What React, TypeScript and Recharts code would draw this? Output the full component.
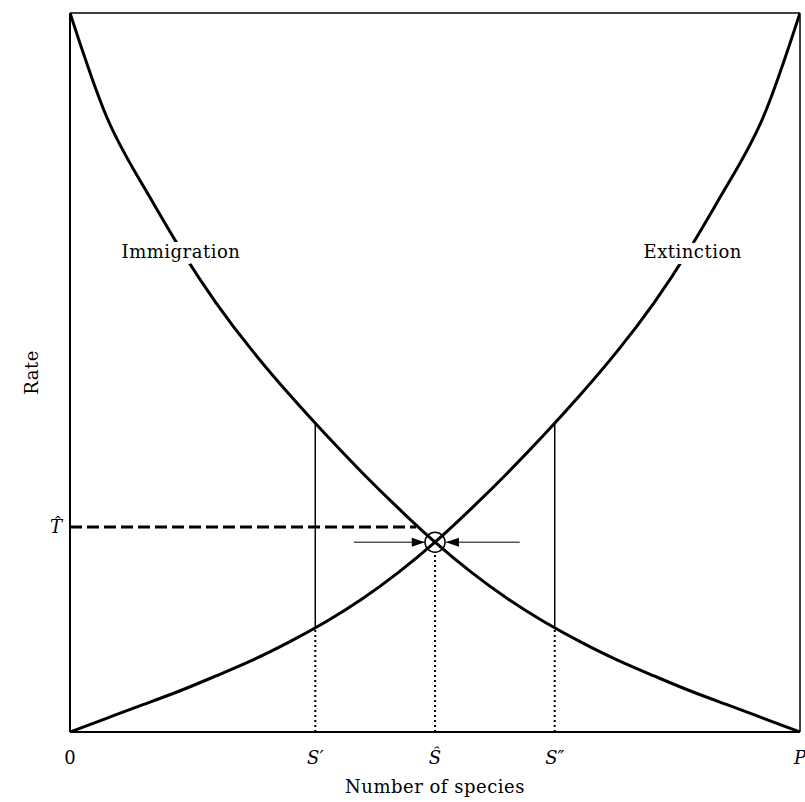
import React from 'react';
import {
  ComposedChart, Line, XAxis, YAxis, ReferenceLine, ReferenceDot, Scatter, Label,
} from 'recharts';

// Number of species (0 .. P = 100)
const speciesX = [0, 5, 10, 15, 20, 25, 30, 35, 40, 45, 50, 55, 60, 65, 70, 75, 80, 85, 90, 95, 100];
const immigrationRate = [100, 85.6, 76, 67.4, 59.7, 53, 47, 41.4, 36.1, 31.1, 26.4, 22.2, 18.5, 15.3, 12.5, 10, 7.8, 5.7, 3.8, 1.9, 0];
const extinctionRate = [0, 1.9, 3.8, 5.7, 7.8, 10, 12.5, 15.3, 18.5, 22.2, 26.4, 31.1, 36.1, 41.4, 47, 53, 59.7, 67.4, 76, 85.6, 100];

// Tick positions and labels
const xTickValues = [0, 33.6, 50, 66.4, 100];
const xTickLabels = ['0', 'S\u2032', '\u015C', 'S\u2033', 'P'];
const yTickValues = [28.5];
const yTickLabels = ['T\u0302'];

// Marked points
const sPrime = 33.6;
const sPrimeLow = 14.5;
const sPrimeHigh = 43;
const sDouble = 66.4;
const sDoubleLow = 14.5;
const sDoubleHigh = 43;
const sHat = 50;
const eqRate = 26.4;
const tHat = 28.5;
const tHatEndX = 47.4;
const leftArrow = [38.9, 48.6];
const rightArrow = [61.6, 51.5];
const arrowHeads = [
  { x: 48.6, y: 26.4, dir: 1 },
  { x: 51.5, y: 26.4, dir: -1 },
];
const curveLabels = [
  { text: 'Immigration', x: 15.2, y: 66.8 },
  { text: 'Extinction', x: 85.3, y: 66.7 },
];

const data = speciesX.map((x, i) => ({ x, imm: immigrationRate[i], ext: extinctionRate[i] }));

const FONT = '"DejaVu Serif", serif';
const FS = 18;
const LS = 0.5;

const XTick = (props: any) => {
  const { x, y, payload, index } = props;
  const i = xTickValues.indexOf(payload.value);
  const lbl = xTickLabels[i >= 0 ? i : index];
  return (
    <text x={x} y={y} dy={12} textAnchor="middle" fontFamily={FONT} fontSize={FS}
      fontStyle={lbl === '0' ? 'normal' : 'italic'} fill="#000">{lbl}</text>
  );
};

const YTick = (props: any) => {
  const { x, y, index } = props;
  return (
    <text x={x} y={y} dy={6} textAnchor="end" fontFamily={FONT} fontSize={FS} fontStyle="italic" fill="#000">
      {yTickLabels[index]}
    </text>
  );
};

const ArrowHead = (props: any) => {
  const { cx, cy, payload } = props;
  const d = payload.dir;
  const len = 13;
  const hw = 4.5;
  return (
    <path d={`M${cx},${cy} L${cx - d * len},${cy - hw} L${cx - d * len},${cy + hw} Z`} fill="#000" stroke="none" />
  );
};

export default function App() {
  return (
    <div style={{ position: 'absolute', left: 0, top: 0, width: 805, height: 802, background: '#fff' }}>
      <ComposedChart width={805} height={802} data={data}
        margin={{ top: 13, right: 5, bottom: 0, left: 0 }}>
        <XAxis type="number" dataKey="x" domain={[0, 100]} ticks={xTickValues}
          tickLine={false} tickMargin={14} axisLine={{ stroke: '#000', strokeWidth: 2 }}
          tick={<XTick />} height={70} interval={0} allowDataOverflow>
          <Label content={(p: any) => {
            const vb = p.viewBox;
            return (
              <text x={vb.x + vb.width / 2} y={793} textAnchor="middle" fontFamily={FONT} fontSize={FS}
                letterSpacing={LS} fill="#000">
                Number of species
              </text>
            );
          }} />
        </XAxis>
        <YAxis type="number" domain={[0, 100]} ticks={yTickValues} width={70}
          tickLine={false} axisLine={{ stroke: '#000', strokeWidth: 2 }} tick={<YTick />} interval={0} allowDataOverflow>
          <Label content={(p: any) => {
            const vb = p.viewBox;
            const cy = vb.y + vb.height / 2;
            return (
              <text x={31} y={cy} transform={`rotate(-90, 31, ${cy})`} textAnchor="middle" dominantBaseline="central"
                fontFamily={FONT} fontSize={FS} letterSpacing={LS} fill="#000">Rate</text>
            );
          }} />
        </YAxis>

        {/* frame */}
        <ReferenceLine y={100} stroke="#000" strokeWidth={1.5} />
        <ReferenceLine x={100} stroke="#000" strokeWidth={1.5} />

        {/* S' */}
        <ReferenceLine segment={[{ x: sPrime, y: 0 }, { x: sPrime, y: sPrimeLow }]} stroke="#000" strokeWidth={2} strokeDasharray="2 3" />
        <ReferenceLine segment={[{ x: sPrime, y: sPrimeLow }, { x: sPrime, y: sPrimeHigh }]} stroke="#000" strokeWidth={1.5} />
        {/* S'' */}
        <ReferenceLine segment={[{ x: sDouble, y: 0 }, { x: sDouble, y: sDoubleLow }]} stroke="#000" strokeWidth={2} strokeDasharray="2 3" />
        <ReferenceLine segment={[{ x: sDouble, y: sDoubleLow }, { x: sDouble, y: sDoubleHigh }]} stroke="#000" strokeWidth={1.5} />
        {/* S hat */}
        <ReferenceLine segment={[{ x: sHat, y: 0 }, { x: sHat, y: eqRate - 1.5 }]} stroke="#000" strokeWidth={2} strokeDasharray="2 3" />
        {/* T hat */}
        <ReferenceLine segment={[{ x: 0, y: tHat }, { x: tHatEndX, y: tHat }]} stroke="#000" strokeWidth={3} strokeDasharray="12 5" />
        {/* arrows */}
        <ReferenceLine segment={[{ x: leftArrow[0], y: eqRate }, { x: leftArrow[1], y: eqRate }]} stroke="#000" strokeWidth={1} />
        <ReferenceLine segment={[{ x: rightArrow[0], y: eqRate }, { x: rightArrow[1], y: eqRate }]} stroke="#000" strokeWidth={1} />

        <Line type="natural" dataKey="imm" stroke="#000" strokeWidth={3} dot={false} isAnimationActive={false} />
        <Line type="natural" dataKey="ext" stroke="#000" strokeWidth={3} dot={false} isAnimationActive={false} />

        <Scatter data={arrowHeads} dataKey="y" shape={<ArrowHead />} isAnimationActive={false} />

        <ReferenceDot x={sHat} y={eqRate} r={10} fill="none" stroke="#000" strokeWidth={1.5} />

        {curveLabels.map((c) => (
          <ReferenceDot key={c.text} x={c.x} y={c.y} r={0} fill="none" stroke="none">
            <Label content={(p: any) => {
              const vb = p.viewBox;
              const cx = vb.cx !== undefined ? vb.cx : vb.x + (vb.width || 0) / 2;
              const cy = vb.cy !== undefined ? vb.cy : vb.y + (vb.height || 0) / 2;
              return (
                <text x={cx} y={cy} dy={6} textAnchor="middle" fontFamily={FONT} fontSize={FS} letterSpacing={LS}
                  fill="#000" stroke="#fff" strokeWidth={12} paintOrder="stroke" strokeLinejoin="round">{c.text}</text>
              );
            }} />
          </ReferenceDot>
        ))}
      </ComposedChart>
    </div>
  );
}
